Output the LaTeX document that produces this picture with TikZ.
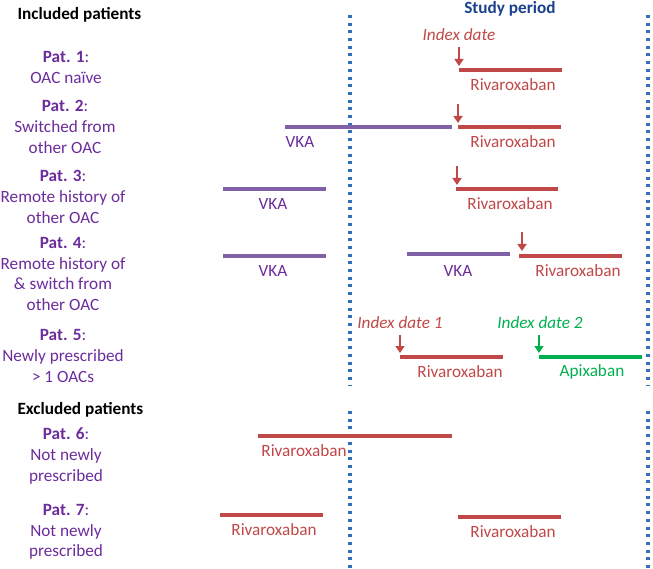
\documentclass[tikz,border=0pt]{standalone}
\usepackage{fontspec}
\setmainfont{Carlito}
\usetikzlibrary{arrows.meta}
\definecolor{patc}{RGB}{108,44,156}
\definecolor{vkac}{RGB}{128,96,166}
\definecolor{rivc}{RGB}{192,72,72}
\definecolor{apxc}{RGB}{0,176,80}
\definecolor{dotc}{RGB}{50,110,185}
\definecolor{studyc}{RGB}{25,65,140}
\tikzset{
  fs/.style={font=\fontsize{17.2}{20.8}\selectfont},
  patlbl/.style={fs, text=patc, align=center},
  head/.style={font=\fontsize{17.2}{20.8}\selectfont\bfseries, anchor=west},
  drug/.style={fs, inner sep=0pt},
  rivline/.style={draw=rivc, line width=3.5pt},
  vkaline/.style={draw=vkac, line width=3.5pt},
  apxline/.style={draw=apxc, line width=3.5pt},
  idxarrow/.style={line width=2.4pt, -{Triangle[width=9pt,length=7pt]}},
  idxlbl/.style={font=\fontsize{17.2}{20.8}\selectfont\itshape, inner sep=0pt},
  period/.style={draw=dotc, line width=3.2pt, dash pattern=on 3pt off 4.7pt},
}
\begin{document}
\begin{tikzpicture}[x=1pt,y=-1pt]
\useasboundingbox (0,0) rectangle (653,569);

% study period borders
\coordinate (L1t) at (350,15);  \coordinate (L1b) at (350,385);
\coordinate (L2t) at (350,411); \coordinate (L2b) at (350,569);
\coordinate (R1t) at (648,15);  \coordinate (R1b) at (648,385);
\coordinate (R2t) at (648,411); \coordinate (R2b) at (648,569);
\draw[period] (L1t) -- (L1b);
\draw[period] (L2t) -- (L2b);
\draw[period] (R1t) -- (R1b);
\draw[period] (R2t) -- (R2b);

% headings
\node[head] (inc) at (14,15) {Included patients};
\node[head] (exc) at (14,410) {Excluded patients};
\node[font=\fontsize{17.2}{20.8}\selectfont\bfseries, text=studyc] (study) at (510,9) {Study period};

% patient labels
\node[patlbl] (p1) at (66,67.5) {\textbf{Pat. 1}:\\OAC naïve};
\node[patlbl] (p2) at (65,127) {\textbf{Pat. 2}:\\Switched from\\other OAC};
\node[patlbl] (p3) at (63,197) {\textbf{Pat. 3}:\\Remote history of\\other OAC};
\node[patlbl] (p4) at (63,274) {\textbf{Pat. 4}:\\Remote history of\\\& switch from\\other OAC};
\node[patlbl] (p5) at (63,356) {\textbf{Pat. 5}:\\Newly prescribed\\> 1 OACs};
\node[patlbl] (p6) at (66,456) {\textbf{Pat. 6}:\\Not newly\\prescribed};
\node[patlbl] (p7) at (66,532) {\textbf{Pat. 7}:\\Not newly\\prescribed};

% Pat 1
\node[idxlbl, text=rivc] (id1) at (459,35) {Index date};
\coordinate (a1s) at (459,47); \coordinate (a1e) at (459,66);
\draw[idxarrow, rivc] (a1s) -- (a1e);
\coordinate (r1a) at (459,70); \coordinate (r1b) at (562,70);
\draw[rivline] (r1a) -- (r1b);
\node[drug, text=rivc] (r1l) at (513,85) {Rivaroxaban};

% Pat 2
\coordinate (v2a) at (285,127); \coordinate (v2b) at (452,127);
\draw[vkaline] (v2a) -- (v2b);
\node[drug, text=patc] (v2l) at (300,142) {VKA};
\coordinate (a2s) at (458,104); \coordinate (a2e) at (458,123);
\draw[idxarrow, rivc] (a2s) -- (a2e);
\coordinate (r2a) at (458,127); \coordinate (r2b) at (561,127);
\draw[rivline] (r2a) -- (r2b);
\node[drug, text=rivc] (r2l) at (513,142) {Rivaroxaban};

% Pat 3
\coordinate (v3a) at (223,189); \coordinate (v3b) at (326,189);
\draw[vkaline] (v3a) -- (v3b);
\node[drug, text=patc] (v3l) at (273,204) {VKA};
\coordinate (a3s) at (457,166); \coordinate (a3e) at (457,185);
\draw[idxarrow, rivc] (a3s) -- (a3e);
\coordinate (r3a) at (456,189); \coordinate (r3b) at (558,189);
\draw[rivline] (r3a) -- (r3b);
\node[drug, text=rivc] (r3l) at (510,204) {Rivaroxaban};

% Pat 4
\coordinate (v4a) at (223,256); \coordinate (v4b) at (326,256);
\draw[vkaline] (v4a) -- (v4b);
\node[drug, text=patc] (v4l) at (273,271) {VKA};
\coordinate (v4c) at (407,254); \coordinate (v4d) at (510,254);
\draw[vkaline] (v4c) -- (v4d);
\node[drug, text=patc] (v4m) at (458,271) {VKA};
\coordinate (a4s) at (522,232); \coordinate (a4e) at (522,251);
\draw[idxarrow, rivc] (a4s) -- (a4e);
\coordinate (r4a) at (519,256); \coordinate (r4b) at (622,256);
\draw[rivline] (r4a) -- (r4b);
\node[drug, text=rivc] (r4l) at (578,271) {Rivaroxaban};

% Pat 5
\node[idxlbl, text=rivc] (id51) at (400,323) {Index date 1};
\coordinate (a5s) at (400,335); \coordinate (a5e) at (400,353);
\draw[idxarrow, rivc] (a5s) -- (a5e);
\coordinate (r5a) at (400,357); \coordinate (r5b) at (503,357);
\draw[rivline] (r5a) -- (r5b);
\node[drug, text=rivc] (r5l) at (460,372) {Rivaroxaban};
\node[idxlbl, text=apxc] (id52) at (540,323) {Index date 2};
\coordinate (b5s) at (539,335); \coordinate (b5e) at (539,353);
\draw[idxarrow, apxc] (b5s) -- (b5e);
\coordinate (x5a) at (539,357); \coordinate (x5b) at (642,357);
\draw[apxline] (x5a) -- (x5b);
\node[drug, text=apxc] (x5l) at (592,372) {Apixaban};

% Pat 6
\coordinate (r6a) at (258,436); \coordinate (r6b) at (452,436);
\draw[rivline] (r6a) -- (r6b);
\node[drug, text=rivc] (r6l) at (304,451) {Rivaroxaban};

% Pat 7
\coordinate (r7a) at (220,515); \coordinate (r7b) at (323,515);
\draw[rivline] (r7a) -- (r7b);
\node[drug, text=rivc] (r7l) at (274,530) {Rivaroxaban};
\coordinate (r7c) at (458,517); \coordinate (r7d) at (561,517);
\draw[rivline] (r7c) -- (r7d);
\node[drug, text=rivc] (r7m) at (513,532) {Rivaroxaban};
\end{tikzpicture}
\end{document}
